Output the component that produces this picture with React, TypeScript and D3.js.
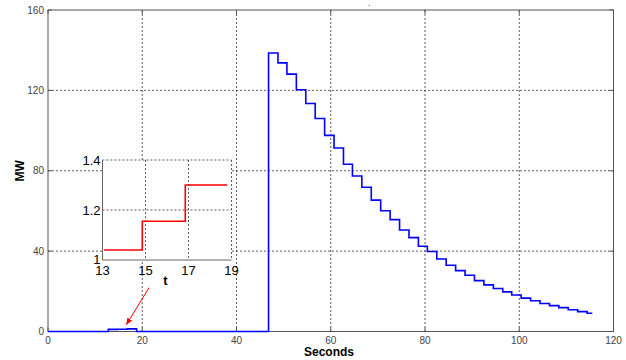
import React from "react";
import * as d3 from "d3";

// Step series (time in seconds at which each level starts, MW level)
const stepTimes = [0, 12.8, 14.85, 16.85, 18.8,
  46.8, 48.8, 50.7, 52.7, 54.7, 56.7, 58.7, 60.7, 62.7, 64.6, 66.6, 68.6, 70.6, 72.6, 74.6,
  76.6, 78.6, 80.5, 82.5, 84.5, 86.5, 88.5, 90.5, 92.5, 94.5, 96.5, 98.4, 100.4, 102.4,
  104.4, 106.4, 108.4, 110.4, 112.4, 114.4, 115.5];
const stepValues = [0, 1.04, 1.155, 1.3, 0,
  138.6, 133.7, 128.1, 120.3, 113.5, 106.0, 97.6, 91.3, 83.2, 77.4, 71.8, 65.4, 60.1, 55.7, 50.5,
  46.7, 42.4, 39.8, 36.1, 33.0, 30.3, 28.0, 25.3, 23.2, 21.4, 19.7, 18.2, 16.6, 15.3,
  13.9, 12.9, 11.9, 10.8, 9.9, 9.1, 9.1];

const xTicks = [0, 20, 40, 60, 80, 100, 120];
const yTicks = [0, 40, 80, 120, 160];
const insetXTicks = [13, 15, 17, 19];
const insetYTicks = [1, 1.2, 1.4];
const insetYLabels = ["1", "1.2", "1.4"];

const W = 626, H = 360;
const FONT = "'Liberation Sans', Arial, sans-serif";

export default function App() {
  const x = d3.scaleLinear().domain([0, 120]).range([48, 613.5]);
  const y = d3.scaleLinear().domain([0, 160]).range([331.5, 10]);
  const data = stepTimes.map((t, i) => [t, stepValues[i]] as [number, number]);
  const line = d3.line<[number, number]>().x(d => x(d[0])).y(d => y(d[1])).curve(d3.curveStepAfter);

  // inset
  const ix = d3.scaleLinear().domain([13, 19]).range([102.5, 231.5]);
  const iy = d3.scaleLinear().domain([1, 1.4]).range([260, 160]);
  const insetData = data.slice(1, 5) as [number, number][];
  const insetPts: [number, number][] = [[13.07, insetData[0][1]], insetData[1], insetData[2], [18.8, insetData[2][1]]];
  const iline = d3.line<[number, number]>().x(d => ix(d[0])).y(d => iy(d[1])).curve(d3.curveStepAfter);

  const gridStyle = { stroke: "#333", strokeWidth: 0.8, strokeDasharray: "2,2" };

  return (
    <svg width={W} height={H} style={{ position: "absolute", left: 0, top: 0, background: "#fff" }}>
      <rect x={0} y={0} width={W} height={H} fill="#fff" />
      {/* grid */}
      {xTicks.slice(1, -1).map(t => (
        <line key={"gx" + t} x1={x(t)} x2={x(t)} y1={y(160)} y2={y(0)} {...gridStyle} />
      ))}
      {yTicks.slice(1, -1).map(t => (
        <line key={"gy" + t} x1={x(0)} x2={x(120)} y1={y(t)} y2={y(t)} {...gridStyle} />
      ))}
      {/* box */}
      <rect x={x(0)} y={y(160)} width={x(120) - x(0)} height={y(0) - y(160)} fill="none" stroke="#555" strokeWidth={1} />
      {/* ticks */}
      {xTicks.map(t => (
        <g key={"tx" + t}>
          <line x1={x(t)} x2={x(t)} y1={y(0)} y2={y(0) - 4} stroke="#555" />
          <line x1={x(t)} x2={x(t)} y1={y(160)} y2={y(160) + 4} stroke="#555" />
          <text x={x(t)} y={y(0) + 12} fontSize={10} fill="#444" textAnchor="middle" fontFamily={FONT}>{t}</text>
        </g>
      ))}
      {yTicks.map(t => (
        <g key={"ty" + t}>
          <line x1={x(0)} x2={x(0) + 4} y1={y(t)} y2={y(t)} stroke="#555" />
          <line x1={x(120)} x2={x(120) - 4} y1={y(t)} y2={y(t)} stroke="#555" />
          <text x={x(0) - 4} y={y(t) + 3.5} fontSize={10} fill="#444" textAnchor="end" fontFamily={FONT}>{t}</text>
        </g>
      ))}
      {/* main line */}
      <path d={line(data) || ""} fill="none" stroke="#0000ff" strokeWidth={1.6} />
      {/* labels */}
      <text x={329} y={356} fontSize={12} fontWeight="bold" textAnchor="middle" fontFamily={FONT} fill="#000">Seconds</text>
      <text transform={`translate(24,${(y(0) + y(160)) / 2}) rotate(-90)`} fontSize={12} fontWeight="bold" textAnchor="middle" fontFamily={FONT} fill="#000">MW</text>
      <text x={369} y={6} fontSize={8} textAnchor="middle" fontFamily={FONT} fill="#000">.</text>

      {/* arrow */}
      <defs>
        <marker id="ah" viewBox="0 0 10 10" refX="9" refY="5" markerWidth="7" markerHeight="7" orient="auto">
          <path d="M0,1 L10,5 L0,9 z" fill="#ff0000" />
        </marker>
      </defs>
      <line x1={149} y1={287.7} x2={126.5} y2={324.5} stroke="#ff0000" strokeWidth={1} markerEnd="url(#ah)" />

      {/* inset */}
      <rect x={ix(13)} y={iy(1.4)} width={ix(19) - ix(13)} height={iy(1) - iy(1.4)} fill="#fff" />
      {insetXTicks.slice(1).map(t => (
        <line key={"igx" + t} x1={ix(t)} x2={ix(t)} y1={iy(1.4)} y2={iy(1)} {...gridStyle} />
      ))}
      {insetYTicks.slice(1).map(t => (
        <line key={"igy" + t} x1={ix(13)} x2={ix(19)} y1={iy(t)} y2={iy(t)} {...gridStyle} />
      ))}
      <line x1={ix(13)} x2={ix(13)} y1={iy(1.4)} y2={iy(1)} stroke="#666" strokeWidth={1} />
      <line x1={ix(13)} x2={ix(19)} y1={iy(1)} y2={iy(1)} stroke="#666" strokeWidth={1} />
      <path d={iline(insetPts) || ""} fill="none" stroke="#ff0000" strokeWidth={1.6} />
      {insetXTicks.map(t => (
        <text key={"ixl" + t} x={ix(t)} y={iy(1) + 14.5} fontSize={13} textAnchor="middle" fontFamily={FONT} fill="#000">{t}</text>
      ))}
      {insetYTicks.map((t, i) => (
        <text key={"iyl" + t} x={ix(13) - 2} y={iy(t) + (i === 0 ? 3.5 : 4.5)} fontSize={13} textAnchor="end" fontFamily={FONT} fill="#000">{insetYLabels[i]}</text>
      ))}
      <text x={165.5} y={284.5} fontSize={13} fontWeight="bold" textAnchor="middle" fontFamily={FONT} fill="#000">t</text>
    </svg>
  );
}
